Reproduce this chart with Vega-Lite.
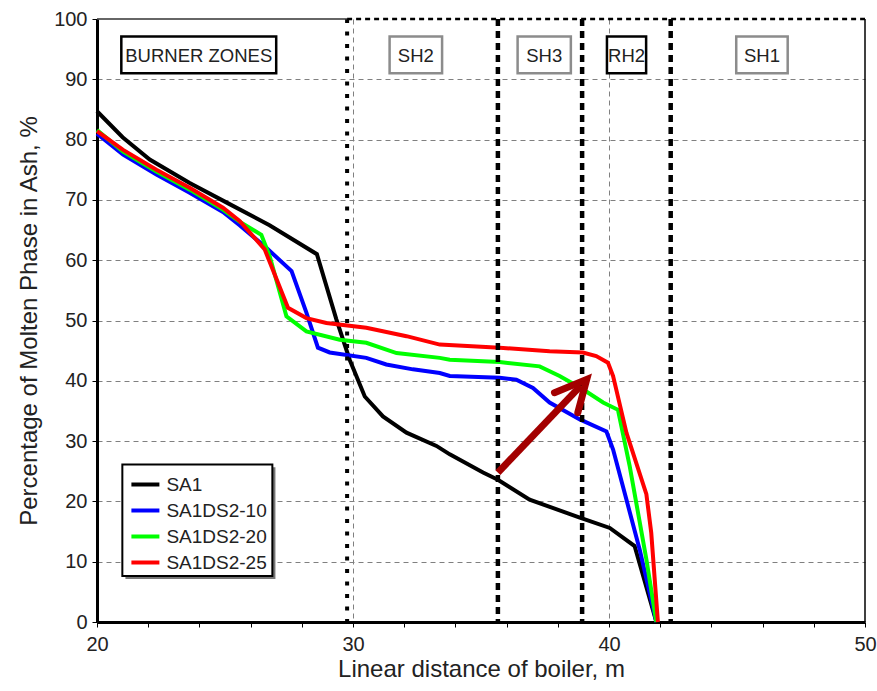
{
  "$schema": "https://vega.github.io/schema/vega-lite/v6.json",
  "width": 768,
  "height": 603,
  "autosize": {"type": "none"},
  "padding": {"left": 97, "top": 19, "right": 12, "bottom": 69},
  "background": "white",
  "config": {
    "view": {"stroke": null},
    "font": "Liberation Sans",
    "axis": {
      "grid": true, "gridColor": "#808080", "gridDash": [5, 4], "gridWidth": 1,
      "domainColor": "black", "domainWidth": 3, "tickColor": "black", "tickSize": 5, "tickWidth": 1,
      "labelFontSize": 20, "labelColor": "#222222", "labelOverlap": false, "labelFlush": false, "labelBound": false,
      "titleFontSize": 24, "titleFontWeight": "normal", "titleColor": "#222222"
    }
  },
  "datasets": {
    "curves": [
      {"series": "SA1", "x": 20, "y": 84.7},
      {"series": "SA1", "x": 21, "y": 80.4},
      {"series": "SA1", "x": 22.06, "y": 76.7},
      {"series": "SA1", "x": 23.62, "y": 72.8},
      {"series": "SA1", "x": 25.18, "y": 69.3},
      {"series": "SA1", "x": 26.74, "y": 65.8},
      {"series": "SA1", "x": 28.59, "y": 61.0},
      {"series": "SA1", "x": 29.35, "y": 50.2},
      {"series": "SA1", "x": 29.87, "y": 43.5},
      {"series": "SA1", "x": 30.46, "y": 37.4},
      {"series": "SA1", "x": 31.17, "y": 34.1},
      {"series": "SA1", "x": 32.09, "y": 31.4},
      {"series": "SA1", "x": 33.26, "y": 29.2},
      {"series": "SA1", "x": 33.78, "y": 27.8},
      {"series": "SA1", "x": 35.08, "y": 24.8},
      {"series": "SA1", "x": 35.66, "y": 23.6},
      {"series": "SA1", "x": 36.9, "y": 20.3},
      {"series": "SA1", "x": 38.86, "y": 17.3},
      {"series": "SA1", "x": 40.03, "y": 15.6},
      {"series": "SA1", "x": 41.0, "y": 12.6},
      {"series": "SA1", "x": 41.85, "y": 0},
      {"series": "SA1DS2-10", "x": 20, "y": 81.0},
      {"series": "SA1DS2-10", "x": 21.02, "y": 77.5},
      {"series": "SA1DS2-10", "x": 22.32, "y": 74.2},
      {"series": "SA1DS2-10", "x": 23.62, "y": 71.2},
      {"series": "SA1DS2-10", "x": 24.92, "y": 68.0},
      {"series": "SA1DS2-10", "x": 25.57, "y": 65.8},
      {"series": "SA1DS2-10", "x": 26.55, "y": 62.3},
      {"series": "SA1DS2-10", "x": 27.6, "y": 58.2},
      {"series": "SA1DS2-10", "x": 28.18, "y": 51.3},
      {"series": "SA1DS2-10", "x": 28.63, "y": 45.5},
      {"series": "SA1DS2-10", "x": 29.09, "y": 44.7},
      {"series": "SA1DS2-10", "x": 30.52, "y": 43.8},
      {"series": "SA1DS2-10", "x": 31.3, "y": 42.7},
      {"series": "SA1DS2-10", "x": 32.34, "y": 41.9},
      {"series": "SA1DS2-10", "x": 33.39, "y": 41.3},
      {"series": "SA1DS2-10", "x": 33.78, "y": 40.8},
      {"series": "SA1DS2-10", "x": 35.73, "y": 40.5},
      {"series": "SA1DS2-10", "x": 36.38, "y": 40.2},
      {"series": "SA1DS2-10", "x": 37.03, "y": 38.8},
      {"series": "SA1DS2-10", "x": 37.68, "y": 36.4},
      {"series": "SA1DS2-10", "x": 38.86, "y": 33.6},
      {"series": "SA1DS2-10", "x": 39.9, "y": 31.6},
      {"series": "SA1DS2-10", "x": 40.16, "y": 28.6},
      {"series": "SA1DS2-10", "x": 40.68, "y": 20.3},
      {"series": "SA1DS2-10", "x": 41.2, "y": 12.0},
      {"series": "SA1DS2-10", "x": 41.85, "y": 0},
      {"series": "SA1DS2-20", "x": 20, "y": 81.6},
      {"series": "SA1DS2-20", "x": 21.02, "y": 78.0},
      {"series": "SA1DS2-20", "x": 22.32, "y": 74.7},
      {"series": "SA1DS2-20", "x": 23.62, "y": 71.7},
      {"series": "SA1DS2-20", "x": 24.92, "y": 68.4},
      {"series": "SA1DS2-20", "x": 25.57, "y": 66.4},
      {"series": "SA1DS2-20", "x": 26.42, "y": 64.2},
      {"series": "SA1DS2-20", "x": 26.75, "y": 60.6},
      {"series": "SA1DS2-20", "x": 27.4, "y": 50.7},
      {"series": "SA1DS2-20", "x": 28.18, "y": 48.2},
      {"series": "SA1DS2-20", "x": 29.48, "y": 46.8},
      {"series": "SA1DS2-20", "x": 30.52, "y": 46.3},
      {"series": "SA1DS2-20", "x": 31.7, "y": 44.6},
      {"series": "SA1DS2-20", "x": 33.39, "y": 43.8},
      {"series": "SA1DS2-20", "x": 33.78, "y": 43.5},
      {"series": "SA1DS2-20", "x": 35.73, "y": 43.1},
      {"series": "SA1DS2-20", "x": 37.29, "y": 42.4},
      {"series": "SA1DS2-20", "x": 38.07, "y": 40.8},
      {"series": "SA1DS2-20", "x": 38.98, "y": 38.6},
      {"series": "SA1DS2-20", "x": 39.77, "y": 36.4},
      {"series": "SA1DS2-20", "x": 40.35, "y": 35.2},
      {"series": "SA1DS2-20", "x": 40.81, "y": 25.8},
      {"series": "SA1DS2-20", "x": 41.46, "y": 10.4},
      {"series": "SA1DS2-20", "x": 41.85, "y": 0},
      {"series": "SA1DS2-25", "x": 20, "y": 81.4},
      {"series": "SA1DS2-25", "x": 21.02, "y": 78.3},
      {"series": "SA1DS2-25", "x": 22.32, "y": 75.0},
      {"series": "SA1DS2-25", "x": 23.62, "y": 72.0},
      {"series": "SA1DS2-25", "x": 24.92, "y": 68.7},
      {"series": "SA1DS2-25", "x": 25.57, "y": 66.5},
      {"series": "SA1DS2-25", "x": 26.55, "y": 61.8},
      {"series": "SA1DS2-25", "x": 27.46, "y": 52.1},
      {"series": "SA1DS2-25", "x": 28.18, "y": 50.4},
      {"series": "SA1DS2-25", "x": 28.96, "y": 49.6},
      {"series": "SA1DS2-25", "x": 30.52, "y": 48.8},
      {"series": "SA1DS2-25", "x": 32.09, "y": 47.4},
      {"series": "SA1DS2-25", "x": 33.39, "y": 46.0},
      {"series": "SA1DS2-25", "x": 35.73, "y": 45.5},
      {"series": "SA1DS2-25", "x": 37.68, "y": 44.9},
      {"series": "SA1DS2-25", "x": 38.98, "y": 44.7},
      {"series": "SA1DS2-25", "x": 39.5, "y": 44.1},
      {"series": "SA1DS2-25", "x": 39.96, "y": 43.0},
      {"series": "SA1DS2-25", "x": 40.16, "y": 40.8},
      {"series": "SA1DS2-25", "x": 40.68, "y": 31.4},
      {"series": "SA1DS2-25", "x": 41.46, "y": 21.2},
      {"series": "SA1DS2-25", "x": 41.65, "y": 14.8},
      {"series": "SA1DS2-25", "x": 41.91, "y": 0}
    ],
    "zones": [
      {"label": "BURNER ZONES", "x": 20.95, "x2": 27.0, "y": 91.0, "y2": 97.1},
      {"label": "SH2", "x": 31.43, "x2": 33.48, "y": 91.0, "y2": 97.1},
      {"label": "SH3", "x": 36.43, "x2": 38.51, "y": 91.0, "y2": 97.1},
      {"label": "RH2", "x": 39.92, "x2": 41.45, "y": 91.0, "y2": 97.1},
      {"label": "SH1", "x": 44.97, "x2": 46.98, "y": 91.0, "y2": 97.1}
    ],
    "sepThin": [{"x": 29.77}],
    "sepThick": [{"x": 35.66}, {"x": 38.95}, {"x": 42.41}],
    "topSolid": [{"x": 20, "x2": 29.77, "y": 100}],
    "topDotted": [{"x": 29.77, "x2": 50, "y": 100}],
    "rightEdge": [{"x": 50}],
    "legendShadow": [{"x": 21.11, "x2": 26.97, "y": 7.13, "y2": 25.65}],
    "legendBox": [{"x": 20.99, "x2": 26.85, "y": 7.63, "y2": 26.14}],
    "arrowShaft": [{"x": 35.66, "y": 24.77, "x2": 38.9, "y2": 39.2}],
    "arrowHead": [
      {"seq": 1, "x": 37.87, "y": 38.03},
      {"seq": 2, "x": 39.13, "y": 40.24},
      {"seq": 3, "x": 38.78, "y": 34.7}
    ]
  },
  "layer": [
    {
      "data": {"name": "curves"},
      "mark": {"type": "line", "strokeWidth": 4},
      "encoding": {
        "x": {"field": "x", "type": "quantitative", "scale": {"domain": [20, 50], "nice": false, "zero": false},
          "axis": {
            "values": [20,21,22,23,24,25,26,27,28,29,30,31,32,33,34,35,36,37,38,39,40,41,42,43,44,45,46,47,48,49,50],
            "labelExpr": "datum.value % 5 === 0 ? datum.label : ''",
            "title": "Linear distance of boiler, m",
            "gridOpacity": {"condition": {"test": "datum.value % 5 === 0 && datum.value > 20 && datum.value < 50", "value": 1}, "value": 0},
            "labelPadding": 7, "titlePadding": 3
          }},
        "y": {"field": "y", "type": "quantitative", "scale": {"domain": [0, 100], "nice": false, "zero": false},
          "axis": {
            "values": [0,5,10,15,20,25,30,35,40,45,50,55,60,65,70,75,80,85,90,95,100],
            "labelExpr": "datum.value % 10 === 0 ? datum.label : ''",
            "title": "Percentage of Molten Phase in Ash, %",
            "gridOpacity": {"condition": {"test": "datum.value % 10 === 0 && datum.value > 0 && datum.value < 100", "value": 1}, "value": 0},
            "labelPadding": 5, "titlePadding": 12
          }},
        "color": {
          "field": "series", "type": "nominal",
          "scale": {"domain": ["SA1", "SA1DS2-10", "SA1DS2-20", "SA1DS2-25"], "range": ["#000000", "#0000ff", "#00ff00", "#ff0000"]},
          "legend": {
            "orient": "none", "legendX": 25.4, "legendY": 445.5, "title": null,
            "symbolType": "stroke", "symbolSize": 784, "symbolStrokeWidth": 4, "symbolOffset": 3,
            "labelFontSize": 19, "labelColor": "#222222", "labelFont": "Liberation Sans",
            "padding": 4, "rowPadding": -3, "labelOffset": 5
          }
        }
      }
    },
    {
      "data": {"name": "legendShadow"},
      "mark": {"type": "rect", "color": "#777777"},
      "encoding": {
        "x": {"field": "x", "type": "quantitative"},
        "x2": {"field": "x2"},
        "y": {"field": "y", "type": "quantitative"},
        "y2": {"field": "y2"}
      }
    },
    {
      "data": {"name": "legendBox"},
      "mark": {"type": "rect", "fill": "white", "stroke": "black", "strokeWidth": 2},
      "encoding": {
        "x": {"field": "x", "type": "quantitative"},
        "x2": {"field": "x2"},
        "y": {"field": "y", "type": "quantitative"},
        "y2": {"field": "y2"}
      }
    },
    {
      "data": {"name": "sepThin"},
      "mark": {"type": "rule", "color": "black", "strokeWidth": 4, "strokeDash": [4, 8.5]},
      "encoding": {"x": {"field": "x", "type": "quantitative"}}
    },
    {
      "data": {"name": "sepThick"},
      "mark": {"type": "rule", "color": "black", "strokeWidth": 4.5, "strokeDash": [7, 5]},
      "encoding": {"x": {"field": "x", "type": "quantitative"}}
    },
    {
      "data": {"name": "rightEdge"},
      "mark": {"type": "rule", "color": "black", "strokeWidth": 1.5},
      "encoding": {"x": {"field": "x", "type": "quantitative"}}
    },
    {
      "data": {"name": "topSolid"},
      "mark": {"type": "rule", "color": "#333333", "strokeWidth": 1.5},
      "encoding": {
        "x": {"field": "x", "type": "quantitative"},
        "x2": {"field": "x2"},
        "y": {"field": "y", "type": "quantitative"}
      }
    },
    {
      "data": {"name": "topDotted"},
      "mark": {"type": "rule", "color": "black", "strokeWidth": 2.5, "strokeDash": [5, 4]},
      "encoding": {
        "x": {"field": "x", "type": "quantitative"},
        "x2": {"field": "x2"},
        "y": {"field": "y", "type": "quantitative"}
      }
    },
    {
      "data": {"name": "zones"},
      "mark": {"type": "rect", "fill": "white", "strokeWidth": 2.5},
      "encoding": {
        "x": {"field": "x", "type": "quantitative"},
        "x2": {"field": "x2"},
        "y": {"field": "y", "type": "quantitative"},
        "y2": {"field": "y2"},
        "stroke": {"condition": {"test": "datum.label === 'BURNER ZONES' || datum.label === 'RH2'", "value": "black"}, "value": "#8c8c8c"}
      }
    },
    {
      "data": {"name": "zones"},
      "transform": [
        {"calculate": "(datum.x + datum.x2) / 2", "as": "xc"},
        {"calculate": "(datum.y + datum.y2) / 2", "as": "yc"}
      ],
      "mark": {"type": "text", "fontSize": 18.5, "color": "#222222", "align": "center", "baseline": "middle", "dy": 1},
      "encoding": {
        "x": {"field": "xc", "type": "quantitative"},
        "y": {"field": "yc", "type": "quantitative"},
        "text": {"field": "label"}
      }
    },
    {
      "data": {"name": "arrowShaft"},
      "mark": {"type": "rule", "color": "#a30000", "strokeWidth": 7, "strokeCap": "butt"},
      "encoding": {
        "x": {"field": "x", "type": "quantitative"},
        "y": {"field": "y", "type": "quantitative"},
        "x2": {"field": "x2"},
        "y2": {"field": "y2"}
      }
    },
    {
      "data": {"name": "arrowHead"},
      "mark": {"type": "line", "color": "#a30000", "strokeWidth": 7, "strokeJoin": "miter", "strokeCap": "round"},
      "encoding": {
        "x": {"field": "x", "type": "quantitative"},
        "y": {"field": "y", "type": "quantitative"},
        "order": {"field": "seq", "type": "quantitative"}
      }
    }
  ]
}
